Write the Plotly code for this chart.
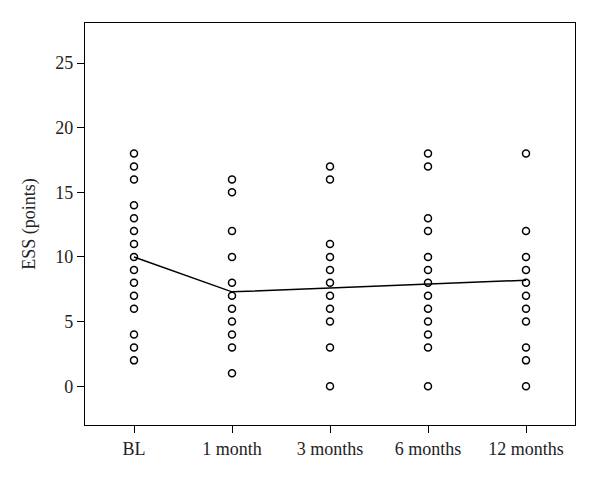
import plotly.graph_objects as go

CATEGORIES = ["BL", "1 month", "3 months", "6 months", "12 months"]

ESS_BL = [18, 17, 16, 14, 13, 12, 11, 10, 9, 8, 7, 6, 4, 3, 2]
ESS_1M = [16, 15, 12, 10, 8, 7, 6, 5, 4, 3, 1]
ESS_3M = [17, 16, 11, 10, 9, 8, 7, 6, 5, 3, 0]
ESS_6M = [18, 17, 13, 12, 10, 9, 8, 7, 6, 5, 4, 3, 0]
ESS_12M = [18, 12, 10, 9, 8, 7, 6, 5, 3, 2, 0]

MEAN_ESS = [10, 7.3, 7.6, 7.9, 8.2]

FONT = "Liberation Serif, Times New Roman, serif"

groups = [ESS_BL, ESS_1M, ESS_3M, ESS_6M, ESS_12M]
xs, ys = [], []
for i, vals in enumerate(groups):
    xs += [i] * len(vals)
    ys += vals

fig = go.Figure()
fig.add_trace(go.Scatter(
    x=list(range(len(CATEGORIES))),
    y=MEAN_ESS,
    mode="lines",
    line=dict(color="black", width=1.5),
    showlegend=False,
))
fig.add_trace(go.Scatter(
    x=xs,
    y=ys,
    mode="markers",
    marker=dict(symbol="circle-open", size=7, color="black", line=dict(width=1.5, color="black")),
    showlegend=False,
))

axis_common = dict(
    showline=True, linecolor="black", linewidth=1.3, mirror=True,
    ticks="outside", ticklen=7, tickwidth=1, tickcolor="black",
    showgrid=False, zeroline=False,
    tickfont=dict(family=FONT, size=18, color="#222"),
)

fig.update_xaxes(
    **axis_common,
    range=[-0.5, 4.5],
    tickmode="array",
    tickvals=list(range(len(CATEGORIES))),
    ticktext=CATEGORIES,
)
fig.update_yaxes(
    **axis_common,
    range=[-3, 28.1],
    tickmode="array",
    tickvals=[0, 5, 10, 15, 20, 25],
    title=dict(text="ESS (points)", font=dict(family=FONT, size=18, color="#222"), standoff=14),
)

# page body has an 8px default margin, so shrink the figure to fit
fig.update_layout(
    width=592, height=470,
    paper_bgcolor="white", plot_bgcolor="white",
    margin=dict(l=77, r=25, t=15, b=53),
)

fig.write_html("out.html")
